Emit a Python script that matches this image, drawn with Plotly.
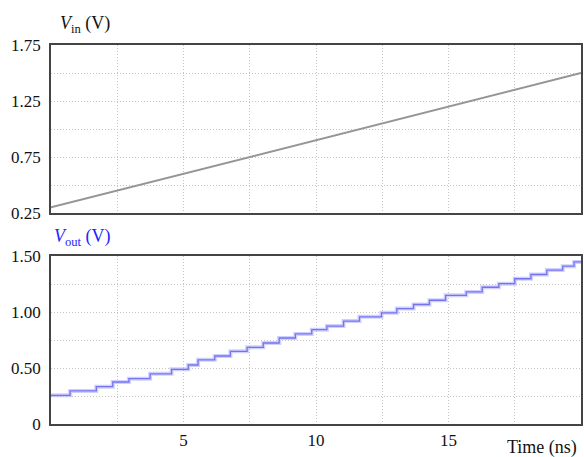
import plotly.graph_objects as go
from plotly.subplots import make_subplots

# Input ramp (V) vs time (ns)
t_in = [0.0, 20.0]
v_in = [0.30, 1.50]

# Output staircase: step times (ns) and levels (V)
t_steps = [0.0, 0.72, 1.71, 2.33, 2.94, 3.74, 4.55, 5.18, 5.55, 6.18, 6.77, 7.40, 8.01,
           8.61, 9.22, 9.84, 10.41, 11.04, 11.64, 12.47, 13.05, 13.68, 14.28, 14.89,
           15.67, 16.27, 16.90, 17.50, 18.11, 18.71, 19.31, 19.74, 20.0]
v_out = [0.256, 0.295, 0.333, 0.375, 0.405, 0.448, 0.488, 0.527, 0.573, 0.607, 0.649,
         0.685, 0.723, 0.768, 0.804, 0.842, 0.874, 0.919, 0.957, 0.993, 1.031, 1.067,
         1.105, 1.149, 1.179, 1.221, 1.253, 1.297, 1.335, 1.374, 1.409, 1.447, 1.447]

top_ticks = [0.25, 0.75, 1.25, 1.75]
top_ticktext = ["0.25", "0.75", "1.25", "1.75"]
bot_ticks = [0, 0.5, 1.0, 1.5]
bot_ticktext = ["0", "0.50", "1.00", "1.50"]
x_ticks = [5, 10, 15]

FONT = "Liberation Serif, Times New Roman, serif"

W, H = 584, 457
L, R, T, B = 51, 1, 45, 33
ph = H - T - B
sub_h = 168

fig = make_subplots(rows=2, cols=1, shared_xaxes=False)

fig.add_trace(go.Scatter(x=t_in, y=v_in, mode="lines",
                         line=dict(color="#959595", width=2), showlegend=False),
              row=1, col=1)
fig.add_trace(go.Scatter(x=t_steps, y=v_out, mode="lines", line_shape="hv",
                         line=dict(color="rgba(170,170,255,0.55)", width=4), showlegend=False),
              row=2, col=1)
fig.add_trace(go.Scatter(x=t_steps, y=v_out, mode="lines", line_shape="hv",
                         line=dict(color="#7474f2", width=1.3), showlegend=False),
              row=2, col=1)

grid = dict(showgrid=True, gridcolor="#c4c4c4", griddash="1px,2px", gridwidth=1)
axis_common = dict(showline=True, linecolor="#444444", linewidth=1.5, mirror=True,
                   ticks="", zeroline=False,
                   tickfont=dict(family=FONT, size=17, color="#111111"))

fig.update_layout(
    width=W, height=H,
    margin=dict(l=L, r=R, t=T, b=B),
    plot_bgcolor="white", paper_bgcolor="white",
    font=dict(family=FONT, size=17, color="#111111"),
    xaxis=dict(domain=[0, 1], range=[0, 20], tickvals=x_ticks, showticklabels=False,
               minor=dict(dtick=2.5, tick0=0, **grid), **grid, **axis_common),
    xaxis2=dict(domain=[0, 1], range=[0, 20], tickvals=x_ticks,
                minor=dict(dtick=2.5, tick0=0, **grid), **grid, **axis_common),
    yaxis=dict(domain=[(ph - sub_h) / ph, 1], range=[0.25, 1.75],
               tickvals=top_ticks, ticktext=top_ticktext, ticklabelstandoff=5,
               minor=dict(dtick=0.25, tick0=0.25, **grid), **grid, **axis_common),
    yaxis2=dict(domain=[0, sub_h / ph], range=[0, 1.5],
                tickvals=bot_ticks, ticktext=bot_ticktext, ticklabelstandoff=5,
                minor=dict(dtick=0.25, tick0=0, **grid), **grid, **axis_common),
)

fig.add_annotation(text="<i>V</i><sub>in</sub> (V)", xref="paper", yref="paper",
                   x=(58 - L) / (W - L - R), y=1 + (T - 24) / ph,
                   xanchor="left", yanchor="middle", showarrow=False,
                   font=dict(family=FONT, size=18, color="#111111"))
fig.add_annotation(text="<i>V</i><sub>out</sub> (V)", xref="paper", yref="paper",
                   x=(52 - L) / (W - L - R), y=sub_h / ph + (256 - 237) / ph,
                   xanchor="left", yanchor="middle", showarrow=False,
                   font=dict(family=FONT, size=18, color="#2323ff"))
fig.add_annotation(text="Time (ns)", xref="paper", yref="paper",
                   x=(581 - L) / (W - L - R), y=-(447 - 424) / ph,
                   xanchor="right", yanchor="middle", showarrow=False,
                   font=dict(family=FONT, size=18, color="#111111"))

fig.write_html("out.html")
